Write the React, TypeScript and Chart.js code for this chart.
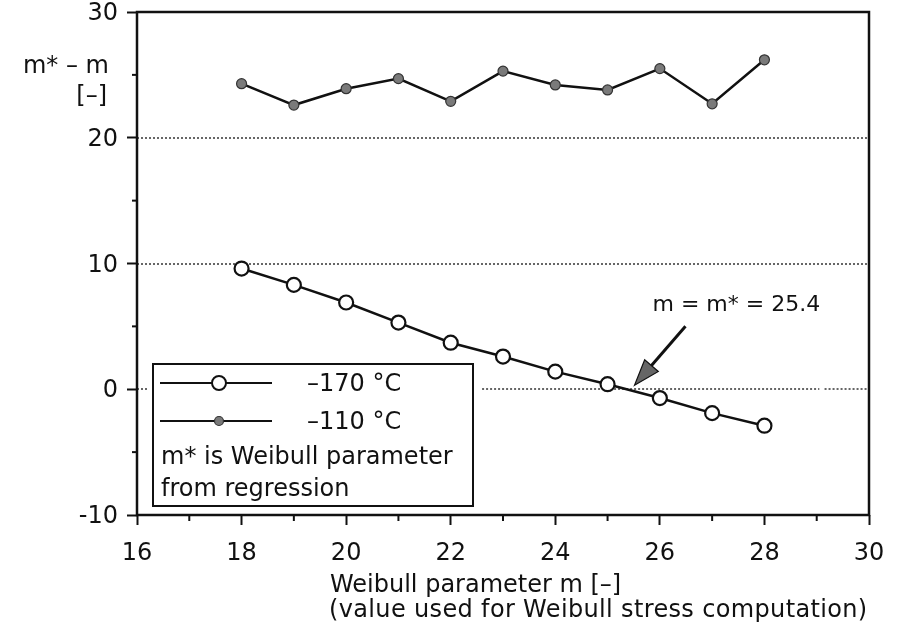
import React, { useEffect, useRef } from "react";
import { Chart, registerables } from "chart.js";

Chart.register(...registerables);

// ---- data ----
const mValues = [18, 19, 20, 21, 22, 23, 24, 25, 26, 27, 28];
const series170 = [9.6, 8.3, 6.9, 5.3, 3.7, 2.6, 1.4, 0.4, -0.7, -1.9, -2.9];
const series110 = [24.3, 22.6, 23.9, 24.7, 22.9, 25.3, 24.2, 23.8, 25.5, 22.7, 26.2];
const label170 = "\u2013170 \u00B0C";
const label110 = "\u2013110 \u00B0C";
const noteLines = ["m* is Weibull parameter", "from regression"];
const crossingValue = 25.4;
const annotationText = "m = m* = 25.4";
const xTitleLines = ["Weibull parameter m [\u2013]", "(value used for Weibull stress computation)"];
const yTitleLines = ["m* \u2013 m", "[\u2013]"];
const gridLevels = [10, 20];
const xMinorTicks = [17, 19, 21, 23, 25, 27, 29];
const yMinorTicks = [-5, 5, 15, 25];

const FONT = "'DejaVu Sans', 'Liberation Sans', Arial, sans-serif";
const INK = "#111";

const decorPlugin = {
  id: "decor",
  beforeDatasetsDraw(chart: any) {
    const { ctx, chartArea: a, scales } = chart;
    const x = scales.x;
    const y = scales.y;
    ctx.save();
    ctx.strokeStyle = "#666";
    ctx.lineWidth = 2;
    ctx.setLineDash([2, 2]);
    const hline = (v: number, x0: number, x1: number) => {
      const py = Math.round(y.getPixelForValue(v));
      ctx.beginPath();
      ctx.moveTo(x0, py);
      ctx.lineTo(x1, py);
      ctx.stroke();
    };
    for (const v of gridLevels) hline(v, a.left, a.right);
    // zero line, partly interrupted as in the original
    hline(0, a.left, x.getPixelForValue(16.2));
    hline(0, x.getPixelForValue(22.6), x.getPixelForValue(29.05));
    hline(0, x.getPixelForValue(29.15), a.right);
    ctx.restore();
  },
  afterDatasetsDraw(chart: any) {
    const { ctx, chartArea: a, scales } = chart;
    const x = scales.x;
    const y = scales.y;
    ctx.save();
    ctx.setLineDash([]);

    // frame
    ctx.strokeStyle = INK;
    ctx.lineWidth = 2.5;
    ctx.strokeRect(a.left, a.top, a.right - a.left, a.bottom - a.top);

    // minor ticks
    ctx.lineWidth = 2;
    for (const v of xMinorTicks) {
      const px = x.getPixelForValue(v);
      ctx.beginPath();
      ctx.moveTo(px, a.bottom);
      ctx.lineTo(px, a.bottom + 6);
      ctx.stroke();
    }
    for (const v of yMinorTicks) {
      const py = y.getPixelForValue(v);
      ctx.beginPath();
      ctx.moveTo(a.left, py);
      ctx.lineTo(a.left - 5, py);
      ctx.stroke();
    }

    // legend box
    const lx = a.left + 16;
    const ly = a.top + 352;
    const lw = 320;
    const lh = 142;
    ctx.fillStyle = "#fff";
    ctx.fillRect(lx, ly, lw, lh);
    ctx.strokeStyle = INK;
    ctx.lineWidth = 2;
    ctx.strokeRect(lx, ly, lw, lh);

    const drawSample = (cy: number, open: boolean) => {
      ctx.strokeStyle = INK;
      ctx.lineWidth = 2;
      ctx.beginPath();
      ctx.moveTo(lx + 7, cy);
      ctx.lineTo(lx + 119, cy);
      ctx.stroke();
      ctx.beginPath();
      ctx.arc(lx + 66, cy, open ? 7 : 4.5, 0, Math.PI * 2);
      ctx.fillStyle = open ? "#fff" : "#7a7a7a";
      ctx.fill();
      ctx.lineWidth = open ? 2 : 1.2;
      ctx.strokeStyle = open ? INK : "#333";
      ctx.stroke();
    };
    drawSample(ly + 19, true);
    drawSample(ly + 57, false);

    ctx.fillStyle = INK;
    ctx.font = `24px ${FONT}`;
    ctx.textAlign = "left";
    ctx.textBaseline = "alphabetic";
    ctx.fillText(label170, lx + 154, ly + 27);
    ctx.fillText(label110, lx + 154, ly + 65);
    ctx.fillText(noteLines[0], lx + 8, ly + 100);
    ctx.fillText(noteLines[1], lx + 8, ly + 132);

    // annotation arrow
    const tipX = x.getPixelForValue(crossingValue) + 6;
    const tipY = y.getPixelForValue(0) - 4;
    const tailX = tipX + 51;
    const tailY = tipY - 59;
    const ang = Math.atan2(tipY - tailY, tipX - tailX);
    const headLen = 26;
    const headHalf = 9;
    const bx = tipX - headLen * Math.cos(ang);
    const by = tipY - headLen * Math.sin(ang);
    ctx.strokeStyle = INK;
    ctx.lineWidth = 3;
    ctx.beginPath();
    ctx.moveTo(tailX, tailY);
    ctx.lineTo(bx, by);
    ctx.stroke();
    ctx.beginPath();
    ctx.moveTo(tipX, tipY);
    ctx.lineTo(bx + headHalf * Math.sin(ang), by - headHalf * Math.cos(ang));
    ctx.lineTo(bx - headHalf * Math.sin(ang), by + headHalf * Math.cos(ang));
    ctx.closePath();
    ctx.fillStyle = "#666";
    ctx.fill();
    ctx.lineWidth = 1.2;
    ctx.stroke();

    ctx.fillStyle = INK;
    ctx.font = `22px ${FONT}`;
    ctx.fillText(annotationText, tipX + 18, tipY - 74);

    // axis titles
    ctx.font = `24px ${FONT}`;
    ctx.textAlign = "left";
    ctx.fillText(xTitleLines[0], 330, 592);
    (ctx as any).letterSpacing = "0.35px";
    ctx.fillText(xTitleLines[1], 329, 617);
    (ctx as any).letterSpacing = "0px";
    ctx.textAlign = "right";
    ctx.fillText(yTitleLines[0], 109, 73);
    ctx.fillText(yTitleLines[1], 107, 103);

    ctx.restore();
  },
};

export default function App() {
  const canvasRef = useRef<HTMLCanvasElement | null>(null);

  useEffect(() => {
    document.body.style.margin = "0";
    const canvas = canvasRef.current;
    if (!canvas) return;
    const tickFont = { family: FONT, size: 24, lineHeight: 1 };
    const chart = new Chart(canvas, {
      type: "line",
      data: {
        datasets: [
          {
            label: label170,
            data: mValues.map((m, i) => ({ x: m, y: series170[i] })),
            borderColor: INK,
            borderWidth: 2.5,
            pointRadius: 7,
            pointBackgroundColor: "#fff",
            pointBorderColor: INK,
            pointBorderWidth: 2.2,
            tension: 0,
          },
          {
            label: label110,
            data: mValues.map((m, i) => ({ x: m, y: series110[i] })),
            borderColor: INK,
            borderWidth: 2.5,
            pointRadius: 5,
            pointBackgroundColor: "#7a7a7a",
            pointBorderColor: "#333",
            pointBorderWidth: 1.2,
            tension: 0,
          },
        ],
      },
      options: {
        responsive: false,
        animation: false,
        devicePixelRatio: 1,
        layout: { padding: { top: 12, right: 32, bottom: 0, left: 0 } },
        plugins: { legend: { display: false }, tooltip: { enabled: false } },
        scales: {
          x: {
            type: "linear",
            min: 16,
            max: 30,
            ticks: { stepSize: 2, font: tickFont, color: INK, padding: 17, maxRotation: 0 },
            grid: { drawOnChartArea: false, drawTicks: true, tickLength: 10, tickWidth: 2, tickColor: INK },
            border: { display: false },
            afterFit: (s: any) => {
              s.height = 116;
              s.paddingLeft = 0;
              s.paddingRight = 0;
            },
          },
          y: {
            type: "linear",
            min: -10,
            max: 30,
            ticks: { stepSize: 10, font: tickFont, color: INK, padding: 9, labelOffset: 2 },
            grid: { drawOnChartArea: false, drawTicks: true, tickLength: 10, tickWidth: 2, tickColor: INK },
            border: { display: false },
            afterFit: (s: any) => {
              s.width = 137;
              s.paddingTop = 0;
              s.paddingBottom = 0;
            },
          },
        },
      },
      plugins: [decorPlugin],
    } as any);
    return () => chart.destroy();
  }, []);

  return (
    <div style={{ width: 901, height: 631 }}>
      <canvas ref={canvasRef} width={901} height={631} style={{ display: "block" }} />
    </div>
  );
}
